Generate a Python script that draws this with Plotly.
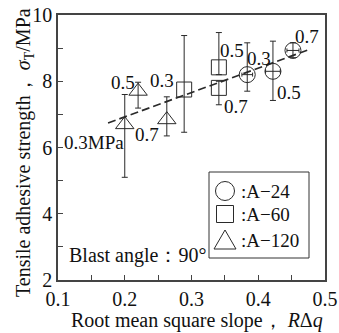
import plotly.graph_objects as go

# ---- data ----
circle_x = [0.3835, 0.422, 0.452]
circle_y = [8.20, 8.30, 8.93]
circle_err_up = [0.96, 0.91, 0.23]
circle_err_dn = [0.50, 0.88, 0.22]
circle_xerr = [0.008, 0.011, 0.009]
circle_labels = ["0.3", "0.5", "0.7"]

square_x = [0.289, 0.341, 0.341]
square_y = [7.75, 8.42, 7.80]
square_err_up = [1.63, 1.05, 0.20]
square_err_dn = [1.29, 0.22, 0.51]
square_labels = ["0.3", "0.5", "0.7"]

tri_x = [0.200, 0.220, 0.263]
tri_y = [6.69, 7.70, 6.84]
tri_err_up = [0.91, 0.27, 0.69]
tri_err_dn = [1.59, 0.51, 0.49]
tri_labels = ["0.3MPa", "0.5", "0.7"]

trend_x = [0.175, 0.474]
trend_y = [6.74, 8.94]

legend_names = [":A\u221224", ":A\u221260", ":A\u2212120"]

x_ticks = [0.1, 0.2, 0.3, 0.4, 0.5]
y_ticks = [2, 4, 6, 8, 10]

# ---- style / layout ----
INK = "#2a2a2a"
FONT = "Liberation Serif, Times New Roman, serif"
W, H = 339, 333
ML, MR, MT, MB = 58, 14, 15, 53
PW, PH = W - ML - MR, H - MT - MB


def px(x, y):
    """pixel position in the page -> paper coordinates"""
    return (x - ML) / PW, (H - MB - y) / PH


fig = go.Figure()

fig.add_trace(go.Scatter(x=trend_x, y=trend_y, mode="lines",
                         line=dict(color=INK, width=1.7, dash="8px,4px"),
                         showlegend=False, hoverinfo="skip"))


def add_series(xs, ys, up, dn, symbol, size, xerr=None):
    kw = {}
    if xerr is not None:
        kw["error_x"] = dict(type="data", array=xerr, color=INK, thickness=1, width=2)
    fig.add_trace(go.Scatter(
        x=xs, y=ys, mode="markers",
        marker=dict(symbol=symbol, size=size, color=INK, line=dict(color=INK, width=1)),
        error_y=dict(type="data", symmetric=False, array=up, arrayminus=dn,
                     color=INK, thickness=1, width=3),
        showlegend=False, **kw))


add_series(circle_x, circle_y, circle_err_up, circle_err_dn, "circle-open", 16, circle_xerr)
add_series(square_x, square_y, square_err_up, square_err_dn, "square-open", 15)
add_series(tri_x, tri_y, tri_err_up, tri_err_dn, "triangle-up-open", 16)

# point labels (offsets in px relative to each point)
label_font = dict(family=FONT, size=19, color="#111")
circle_off = [(12, -16), (16, 21), (14, -14)]
square_off = [(-22, -9), (13, -17), (17, 19)]
tri_off = [(-31, 18), (-15, -9), (-20, 15)]
for xs, ys, labs, offs in [(circle_x, circle_y, circle_labels, circle_off),
                           (square_x, square_y, square_labels, square_off),
                           (tri_x, tri_y, tri_labels, tri_off)]:
    for x, y, t, (dx, dy) in zip(xs, ys, labs, offs):
        fig.add_annotation(x=x, y=y, text=t, showarrow=False, xshift=dx, yshift=-dy,
                           font=label_font)

bx, by = px(67, 255)
fig.add_annotation(xref="paper", yref="paper", x=bx, y=by, xanchor="left",
                   yanchor="middle", text="Blast angle\uff1a90\u00b0",
                   showarrow=False, font=dict(family=FONT, size=20, color="#111"))

# axis titles
tx, ty = px(24, 153)
fig.add_annotation(xref="paper", yref="paper", x=tx, y=ty, xanchor="center", yanchor="middle",
                   textangle=-90, showarrow=False,
                   text="Tensile adhesive strength\uff0c <i>\u03c3</i><sub>T</sub>/MPa",
                   font=dict(family=FONT, size=20, color="#111"))
tx, ty = px(197, 320)
fig.add_annotation(xref="paper", yref="paper", x=tx, y=ty, xanchor="center", yanchor="middle",
                   showarrow=False,
                   text="Root mean square slope\uff0c <i>R</i>\u0394<i>q</i>",
                   font=dict(family=FONT, size=20, color="#111"))

# legend box drawn by hand
shapes = []
x0, y0 = px(209, 172)
x1, y1 = px(309, 258)
shapes.append(dict(type="rect", xref="paper", yref="paper", x0=x0, y0=y1, x1=x1, y1=y0,
                   line=dict(color="#333", width=1), fillcolor="white", layer="above"))
row_y = [191, 214, 240]
sx = 225
ax0, ay0 = px(sx - 9.5, row_y[0] - 9.5)
ax1, ay1 = px(sx + 9.5, row_y[0] + 9.5)
shapes.append(dict(type="circle", xref="paper", yref="paper", x0=ax0, y0=ay1, x1=ax1, y1=ay0,
                   line=dict(color=INK, width=1), layer="above"))
ax0, ay0 = px(sx - 8.5, row_y[1] - 8.5)
ax1, ay1 = px(sx + 8.5, row_y[1] + 8.5)
shapes.append(dict(type="rect", xref="paper", yref="paper", x0=ax0, y0=ay1, x1=ax1, y1=ay0,
                   line=dict(color=INK, width=1), layer="above"))
p1 = px(sx, row_y[2] - 10)
p2 = px(sx - 11, row_y[2] + 9)
p3 = px(sx + 11, row_y[2] + 9)
shapes.append(dict(type="path", xref="paper", yref="paper",
                   path=f"M {p1[0]},{p1[1]} L {p2[0]},{p2[1]} L {p3[0]},{p3[1]} Z",
                   line=dict(color=INK, width=1), layer="above"))
for ry, name in zip(row_y, legend_names):
    lx, ly = px(239, ry)
    fig.add_annotation(xref="paper", yref="paper", x=lx, y=ly, xanchor="left",
                       yanchor="middle", text=name, showarrow=False,
                       font=dict(family=FONT, size=19, color="#111"))

axis_common = dict(showline=True, linecolor="#444", linewidth=1.5, mirror=True,
                   ticks="inside", ticklen=5, tickcolor="#444", showgrid=False,
                   zeroline=False, automargin=False,
                   tickfont=dict(family=FONT, size=20, color="#111"))

fig.update_layout(
    width=W, height=H,
    margin=dict(l=ML, r=MR, t=MT, b=MB, autoexpand=False),
    paper_bgcolor="white", plot_bgcolor="white",
    font=dict(family=FONT, color="#111"),
    xaxis=dict(range=[0.1, 0.5], tickvals=x_ticks, ticktext=[f"{v:.1f}" for v in x_ticks],
               minor=dict(tickvals=[0.15, 0.25, 0.35, 0.45], ticks="inside", ticklen=5,
                          tickcolor="#444"),
               **axis_common),
    yaxis=dict(range=[2, 10], tickvals=y_ticks,
               minor=dict(tickvals=[3, 5, 7, 9], ticks="inside", ticklen=5, tickcolor="#444"),
               **axis_common),
    shapes=shapes,
    showlegend=False,
)

fig.write_html("out.html", config={"displayModeBar": False},
               post_script="document.body.style.margin='0';document.body.style.padding='0';")
